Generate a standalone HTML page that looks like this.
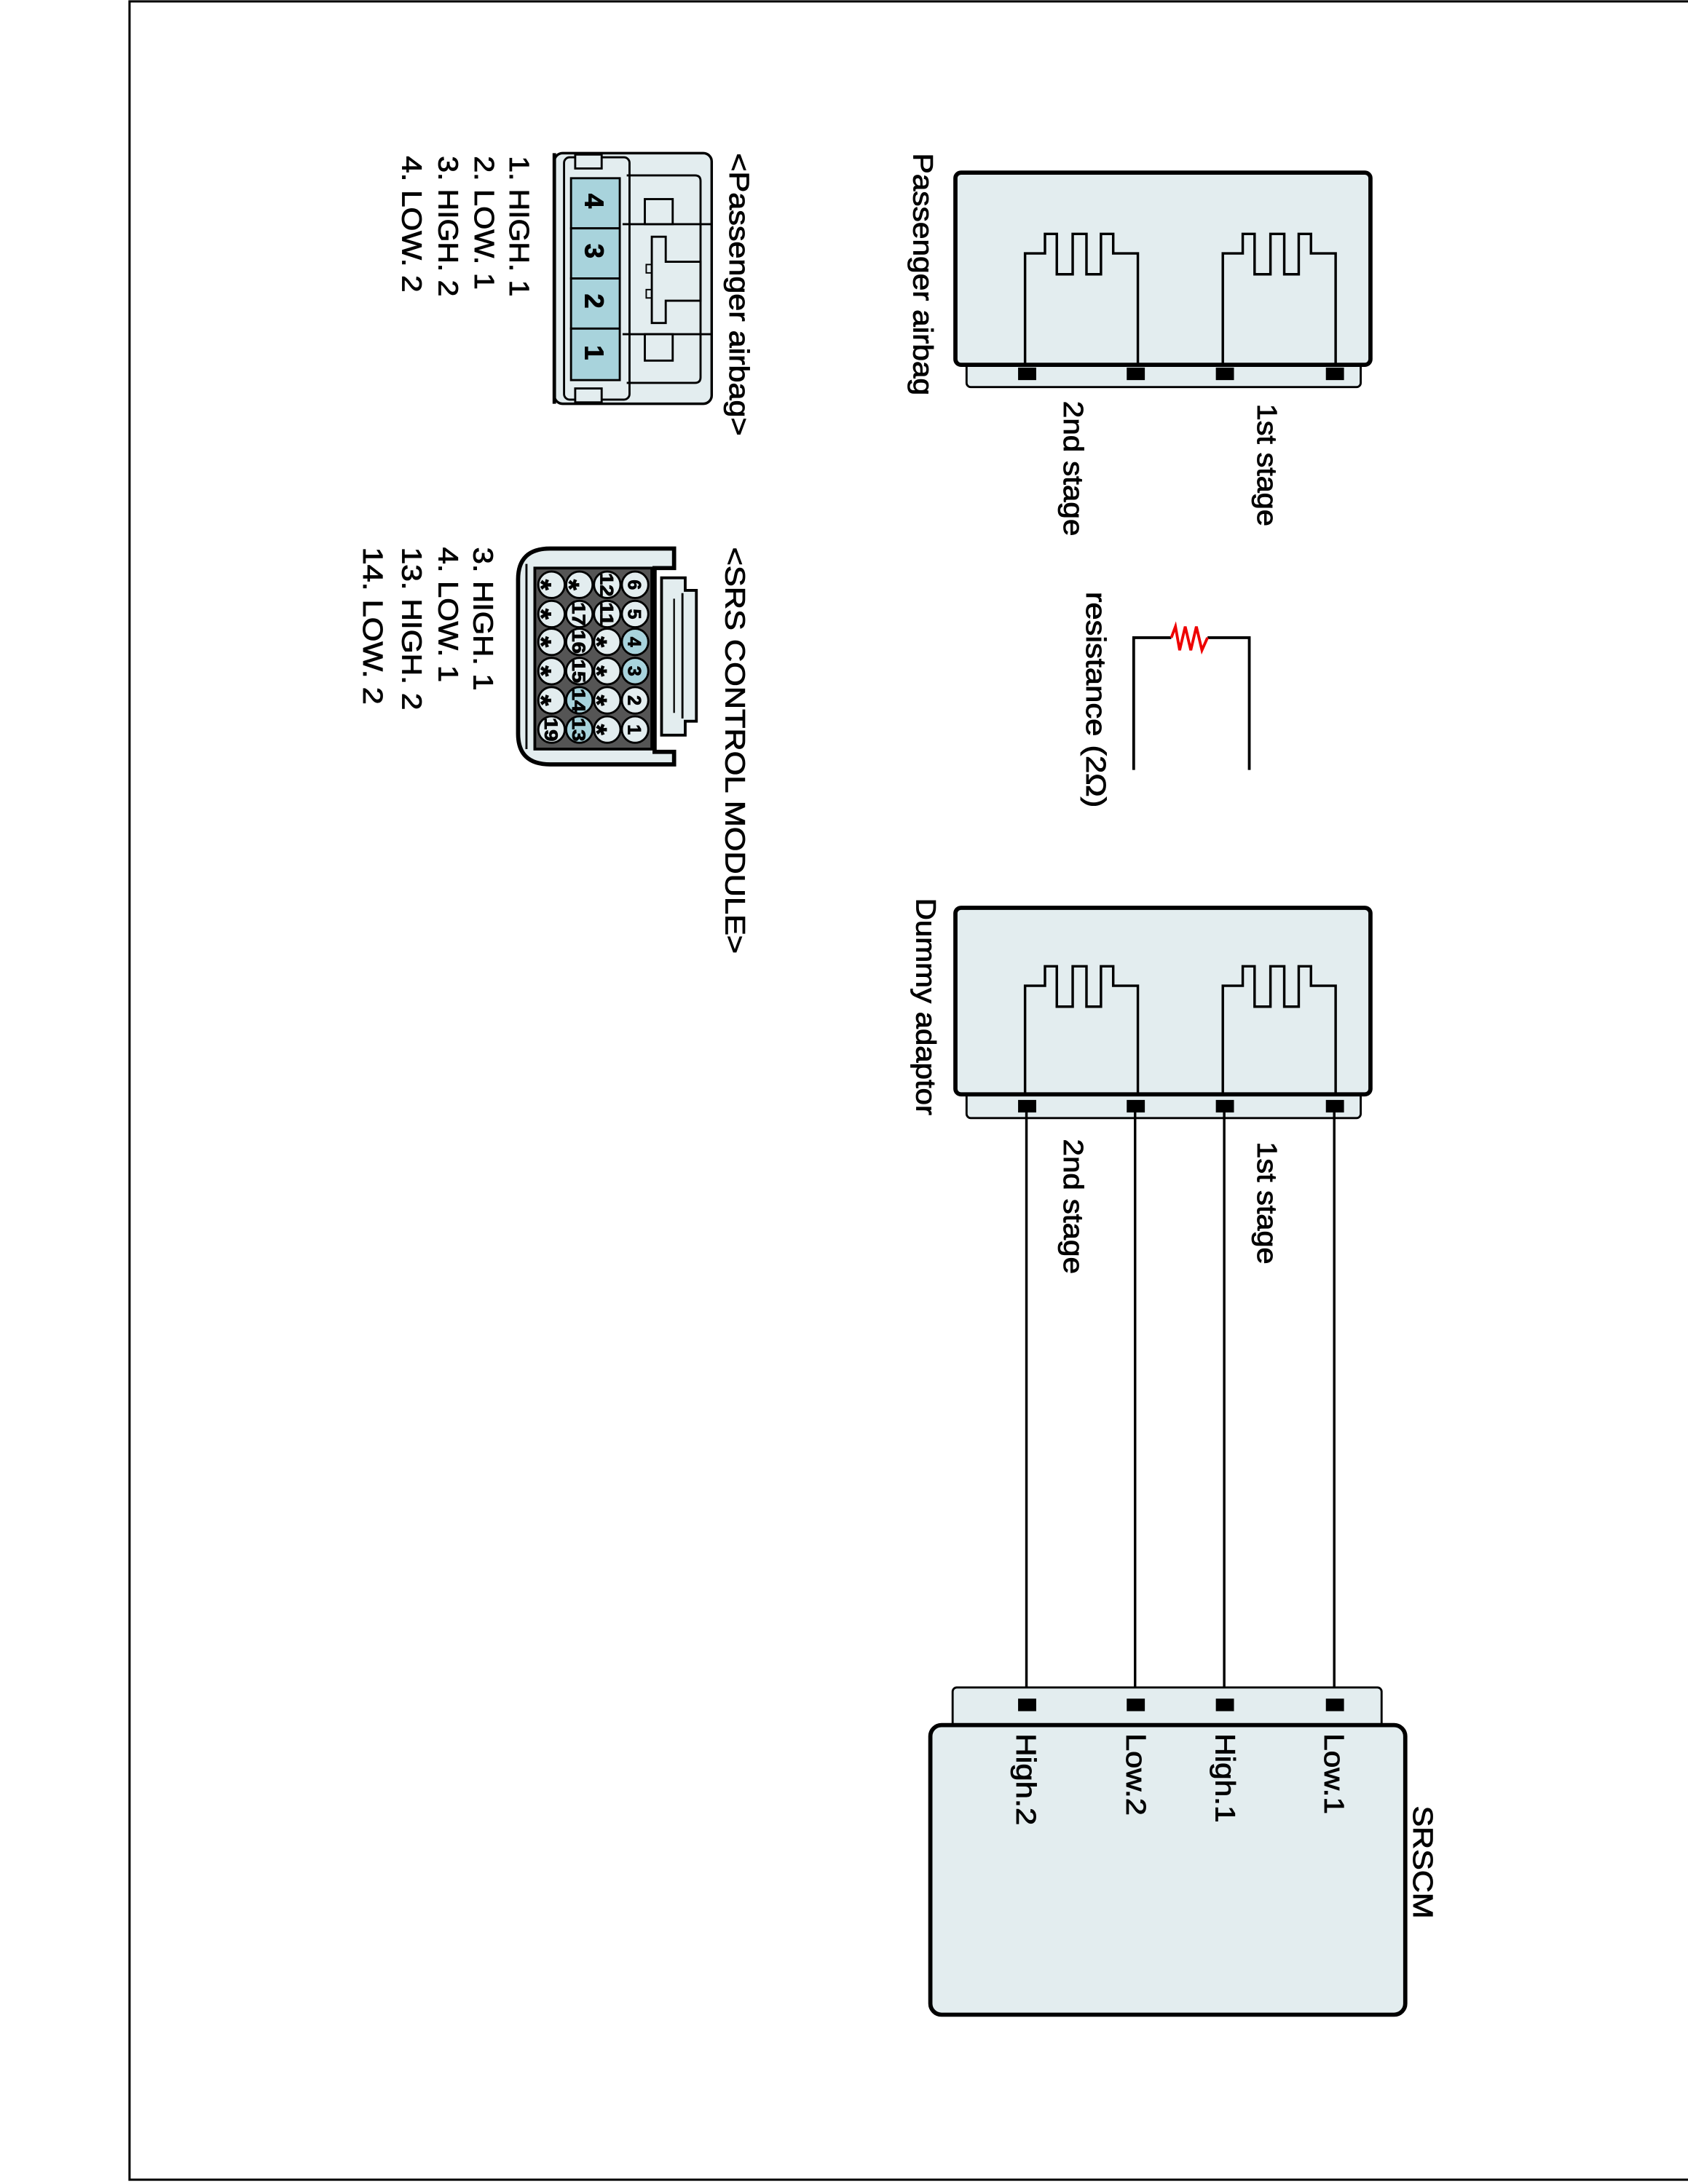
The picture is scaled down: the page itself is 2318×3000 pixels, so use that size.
<!DOCTYPE html>
<html><head><meta charset="utf-8"><style>
html,body{margin:0;padding:0;background:#fff;}
svg{display:block;}
text{font-family:"Liberation Sans",Arial,sans-serif;fill:#000;stroke:#000;stroke-width:0.45;}
</style></head><body>
<svg width="2318" height="3000" viewBox="0 0 1212 1568.6" xmlns="http://www.w3.org/2000/svg">
<rect x="0" y="0" width="1212" height="1569" fill="#fff"/>
<rect x="93" y="1" width="1130" height="1564.5" fill="none" stroke="#000" stroke-width="1.6"/>

<!-- Passenger airbag module -->
<rect x="694" y="258" width="283" height="20" rx="3" fill="#e3edef" stroke="#000" stroke-width="1.5"/>
<rect x="686" y="124" width="298" height="138" rx="4" fill="#e3edef" stroke="#000" stroke-width="3"/>
<path d="M736,262 V182 H750.3 V168 H758.8 V197 H770.2 V168 H780.1 V197 H790.5 V168 H799.3 V182 H817 V262" fill="none" stroke="#000" stroke-width="1.8"/>
<path d="M878,262 V182 H892.3 V168 H900.8 V197 H912.2 V168 H922.1 V197 H932.5 V168 H941.3 V182 H959 V262" fill="none" stroke="#000" stroke-width="1.8"/>
<rect x="731" y="264" width="13" height="9" fill="#000"/>
<rect x="809" y="264" width="13" height="9" fill="#000"/>
<rect x="873" y="264" width="13" height="9" fill="#000"/>
<rect x="952" y="264" width="13" height="9" fill="#000"/>
<text transform="translate(656,110) rotate(90)" font-size="20" textLength="174" lengthAdjust="spacingAndGlyphs">Passenger airbag</text>
<text transform="translate(764,288) rotate(90)" font-size="20" textLength="97" lengthAdjust="spacingAndGlyphs">2nd stage</text>
<text transform="translate(903,290) rotate(90)" font-size="20" textLength="88" lengthAdjust="spacingAndGlyphs">1st stage</text>

<!-- resistor -->
<path d="M814,553 V458 H841 M867,458 H897 V553" fill="none" stroke="#000" stroke-width="2"/>
<path d="M841,458 L844,450 L847,467 L851,450 L855,467 L859,450 L863,467 L867,458" fill="none" stroke="#e00" stroke-width="2"/>
<text transform="translate(780,425) rotate(90)" font-size="20" textLength="155" lengthAdjust="spacingAndGlyphs">resistance (2Ω)</text>

<!-- Dummy adaptor -->
<rect x="694" y="782" width="283" height="21" rx="3" fill="#e3edef" stroke="#000" stroke-width="1.5"/>
<rect x="686" y="652" width="298" height="134" rx="4" fill="#e3edef" stroke="#000" stroke-width="3"/>
<path d="M736,786 V708 H750.3 V694 H758.8 V723 H770.2 V694 H780.1 V723 H790.5 V694 H799.3 V708 H817 V786" fill="none" stroke="#000" stroke-width="1.8"/>
<path d="M878,786 V708 H892.3 V694 H900.8 V723 H912.2 V694 H922.1 V723 H932.5 V694 H941.3 V708 H959 V786" fill="none" stroke="#000" stroke-width="1.8"/>
<text transform="translate(658,645) rotate(90)" font-size="20" textLength="156" lengthAdjust="spacingAndGlyphs">Dummy adaptor</text>
<text transform="translate(764,818) rotate(90)" font-size="20" textLength="97" lengthAdjust="spacingAndGlyphs">2nd stage</text>
<text transform="translate(903,820) rotate(90)" font-size="20" textLength="88" lengthAdjust="spacingAndGlyphs">1st stage</text>

<g stroke="#000" stroke-width="1.8">
<line x1="737" y1="795" x2="737" y2="1224"/>
<line x1="815" y1="795" x2="815" y2="1224"/>
<line x1="879" y1="795" x2="879" y2="1224"/>
<line x1="958" y1="795" x2="958" y2="1224"/>
</g>
<rect x="731" y="790" width="13" height="9" fill="#000"/>
<rect x="809" y="790" width="13" height="9" fill="#000"/>
<rect x="873" y="790" width="13" height="9" fill="#000"/>
<rect x="952" y="790" width="13" height="9" fill="#000"/>

<!-- SRSCM -->
<rect x="684" y="1212" width="308" height="30" rx="3" fill="#e3edef" stroke="#000" stroke-width="1.5"/>
<rect x="668" y="1239" width="341" height="208" rx="8" fill="#e3edef" stroke="#000" stroke-width="3"/>
<rect x="731" y="1220" width="13" height="9" fill="#000"/>
<rect x="809" y="1220" width="13" height="9" fill="#000"/>
<rect x="873" y="1220" width="13" height="9" fill="#000"/>
<rect x="952" y="1220" width="13" height="9" fill="#000"/>
<text transform="translate(730,1245) rotate(90)" font-size="20" textLength="66" lengthAdjust="spacingAndGlyphs">High.2</text>
<text transform="translate(809,1245) rotate(90)" font-size="20" textLength="59" lengthAdjust="spacingAndGlyphs">Low.2</text>
<text transform="translate(873,1245) rotate(90)" font-size="20" textLength="64" lengthAdjust="spacingAndGlyphs">High.1</text>
<text transform="translate(951,1245) rotate(90)" font-size="20" textLength="58" lengthAdjust="spacingAndGlyphs">Low.1</text>
<text transform="translate(1015,1297) rotate(90)" font-size="20" textLength="81" lengthAdjust="spacingAndGlyphs">SRSCM</text>

<!-- Passenger airbag connector -->
<rect x="398" y="110" width="113" height="180" rx="6" fill="#e3edef" stroke="#000" stroke-width="1.8"/>
<line x1="398" y1="110" x2="398" y2="290" stroke="#000" stroke-width="2.5"/>
<rect x="405" y="113" width="47" height="174" rx="4" fill="#e3edef" stroke="#000" stroke-width="1.5"/>
<rect x="413" y="111" width="19" height="10" fill="#e3edef" stroke="#000" stroke-width="1.5"/>
<rect x="413" y="279" width="19" height="10" fill="#e3edef" stroke="#000" stroke-width="1.5"/>
<g fill="#a8d3dc" stroke="#000" stroke-width="1.5">
<rect x="410" y="128" width="35" height="36"/>
<rect x="410" y="164" width="35" height="36"/>
<rect x="410" y="200" width="35" height="36"/>
<rect x="410" y="236" width="35" height="37"/>
</g>
<path d="M450,126 H499 Q503,126 503,130 V271 Q503,275 499,275 H450" fill="none" stroke="#000" stroke-width="1.5"/>
<line x1="447" y1="161" x2="511" y2="161" stroke="#000" stroke-width="1.5"/>
<line x1="447" y1="240" x2="511" y2="240" stroke="#000" stroke-width="1.5"/>
<rect x="463" y="143" width="20" height="18" fill="none" stroke="#000" stroke-width="1.5"/>
<rect x="463" y="240" width="20" height="19" fill="none" stroke="#000" stroke-width="1.5"/>
<path d="M468,170 H478 V188 H503 V216 H478 V232 H468 Z" fill="none" stroke="#000" stroke-width="1.5"/>
<rect x="464" y="190" width="4" height="6" fill="none" stroke="#000" stroke-width="1"/>
<rect x="464" y="208" width="4" height="6" fill="none" stroke="#000" stroke-width="1"/>
<g font-size="19" font-weight="bold">
<text transform="translate(420,139) rotate(90)">4</text>
<text transform="translate(420,175) rotate(90)">3</text>
<text transform="translate(420,211) rotate(90)">2</text>
<text transform="translate(420,248) rotate(90)">1</text>
</g>
<text transform="translate(524,110) rotate(90)" font-size="20" textLength="203" lengthAdjust="spacingAndGlyphs">&lt;Passenger airbag&gt;</text>
<g font-size="20">
<text transform="translate(366,112) rotate(90)" textLength="101" lengthAdjust="spacingAndGlyphs">1. HIGH. 1</text>
<text transform="translate(341,112) rotate(90)" textLength="96" lengthAdjust="spacingAndGlyphs">2. LOW. 1</text>
<text transform="translate(315,112) rotate(90)" textLength="101" lengthAdjust="spacingAndGlyphs">3. HIGH. 2</text>
<text transform="translate(289,112) rotate(90)" textLength="98" lengthAdjust="spacingAndGlyphs">4. LOW. 2</text>
</g>

<!-- SRS control module connector -->
<path d="M395,394 H484 V408 H470 V540 H484 V549 H395 Q372,549 372,527 V416 Q372,394 395,394 Z" fill="#e3edef" stroke="#000" stroke-width="3"/>
<path d="M475,415 H492 V424 H500 V518 H492 V528 H475 Z" fill="#e3edef" stroke="#000" stroke-width="2"/>
<line x1="490" y1="426" x2="490" y2="516" stroke="#000" stroke-width="1.5"/>
<line x1="484" y1="430" x2="484" y2="512" stroke="#000" stroke-width="1.2"/>
<line x1="378" y1="405" x2="378" y2="538" stroke="#000" stroke-width="1.5"/>
<rect x="384" y="408" width="84" height="130" fill="#555" stroke="#000" stroke-width="2"/>
<g stroke="#000" stroke-width="1.5">
<circle cx="456" cy="420" r="9.5" fill="#e3edef"/><circle cx="456" cy="441" r="9.5" fill="#e3edef"/><circle cx="456" cy="461" r="9.5" fill="#a8d3dc"/><circle cx="456" cy="482" r="9.5" fill="#a8d3dc"/><circle cx="456" cy="503" r="9.5" fill="#e3edef"/><circle cx="456" cy="524" r="9.5" fill="#e3edef"/>
<circle cx="436" cy="420" r="9.5" fill="#e3edef"/><circle cx="436" cy="441" r="9.5" fill="#e3edef"/><circle cx="436" cy="461" r="9.5" fill="#e3edef"/><circle cx="436" cy="482" r="9.5" fill="#e3edef"/><circle cx="436" cy="503" r="9.5" fill="#e3edef"/><circle cx="436" cy="524" r="9.5" fill="#e3edef"/>
<circle cx="416" cy="420" r="9.5" fill="#e3edef"/><circle cx="416" cy="441" r="9.5" fill="#e3edef"/><circle cx="416" cy="461" r="9.5" fill="#e3edef"/><circle cx="416" cy="482" r="9.5" fill="#e3edef"/><circle cx="416" cy="503" r="9.5" fill="#a8d3dc"/><circle cx="416" cy="524" r="9.5" fill="#a8d3dc"/>
<circle cx="396" cy="420" r="9.5" fill="#e3edef"/><circle cx="396" cy="441" r="9.5" fill="#e3edef"/><circle cx="396" cy="461" r="9.5" fill="#e3edef"/><circle cx="396" cy="482" r="9.5" fill="#e3edef"/><circle cx="396" cy="503" r="9.5" fill="#e3edef"/><circle cx="396" cy="524" r="9.5" fill="#e3edef"/>
</g>
<g font-size="13" font-weight="bold" text-anchor="middle">
<text transform="translate(451,420) rotate(90)">6</text><text transform="translate(451,441) rotate(90)">5</text><text transform="translate(451,461) rotate(90)">4</text><text transform="translate(451,482) rotate(90)">3</text><text transform="translate(451,503) rotate(90)">2</text><text transform="translate(451,524) rotate(90)">1</text>
<text transform="translate(431,420) rotate(90)" textLength="17" lengthAdjust="spacingAndGlyphs">12</text><text transform="translate(431,441) rotate(90)" textLength="17" lengthAdjust="spacingAndGlyphs">11</text>
<text transform="translate(411,441) rotate(90)" textLength="17" lengthAdjust="spacingAndGlyphs">17</text><text transform="translate(411,461) rotate(90)" textLength="17" lengthAdjust="spacingAndGlyphs">16</text><text transform="translate(411,482) rotate(90)" textLength="17" lengthAdjust="spacingAndGlyphs">15</text><text transform="translate(411,503) rotate(90)" textLength="17" lengthAdjust="spacingAndGlyphs">14</text><text transform="translate(411,524) rotate(90)" textLength="17" lengthAdjust="spacingAndGlyphs">13</text>
<text transform="translate(391,524) rotate(90)" textLength="17" lengthAdjust="spacingAndGlyphs">19</text>
</g>
<g font-size="20" font-weight="bold" text-anchor="middle">
<text transform="translate(429,461) rotate(90)" dy="7">*</text><text transform="translate(429,482) rotate(90)" dy="7">*</text><text transform="translate(429,503) rotate(90)" dy="7">*</text><text transform="translate(429,524) rotate(90)" dy="7">*</text>
<text transform="translate(409,420) rotate(90)" dy="7">*</text>
<text transform="translate(389,420) rotate(90)" dy="7">*</text><text transform="translate(389,441) rotate(90)" dy="7">*</text><text transform="translate(389,461) rotate(90)" dy="7">*</text><text transform="translate(389,482) rotate(90)" dy="7">*</text><text transform="translate(389,503) rotate(90)" dy="7">*</text>
</g>
<text transform="translate(521,393) rotate(90)" font-size="20" textLength="292" lengthAdjust="spacingAndGlyphs">&lt;SRS CONTROL MODULE&gt;</text>
<g font-size="20">
<text transform="translate(340,393) rotate(90)" textLength="103" lengthAdjust="spacingAndGlyphs">3. HIGH. 1</text>
<text transform="translate(315,393) rotate(90)" textLength="97" lengthAdjust="spacingAndGlyphs">4. LOW. 1</text>
<text transform="translate(289,393) rotate(90)" textLength="117" lengthAdjust="spacingAndGlyphs">13. HIGH. 2</text>
<text transform="translate(261,393) rotate(90)" textLength="113" lengthAdjust="spacingAndGlyphs">14. LOW. 2</text>
</g>
</svg>
</body></html>
